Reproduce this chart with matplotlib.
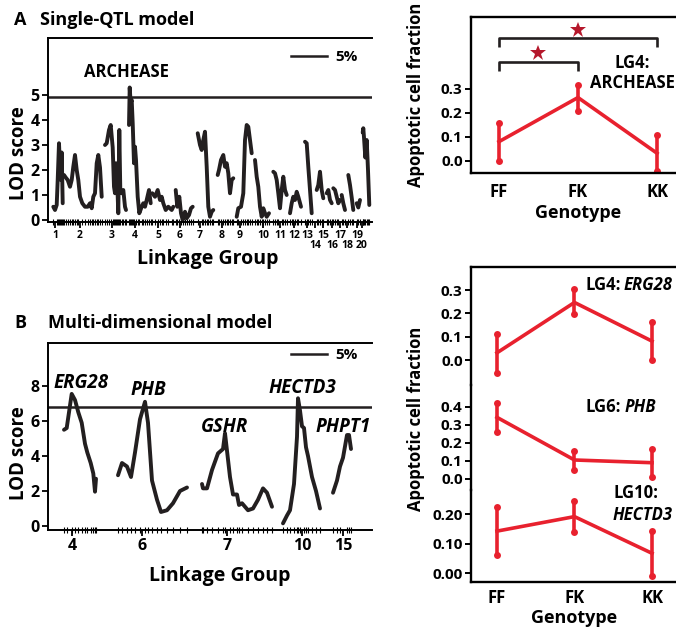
import matplotlib
matplotlib.use('Agg')
import matplotlib.pyplot as plt
import matplotlib.transforms as mtransforms
import numpy as np

plt.rcParams['font.family'] = ['Open Sans', 'DejaVu Sans']
plt.rcParams['font.weight'] = 'bold'

# ---------------- data: panel A (single-QTL LOD profile) ----------------
a_lg1_pos = [5.3, 7, 8.7, 9.7, 11, 12, 13, 13.7, 14.7]
a_lg1_lod = [0.53, 0.4, 0.6, 1.6, 3.07, 2.1, 1.6, 2.7, 0.67]
a_lg2_pos = [16, 17.7, 19.7, 22, 23.7, 25.3, 27, 28.7, 30.3, 32, 34.3, 37, 39.7, 42, 43.7, 45.3, 47, 48.7, 50.3, 52, 53.7]
a_lg2_lod = [1.8, 1.7, 1.6, 1.33, 1.6, 2.13, 2.6, 2.0, 1.6, 0.93, 0.67, 0.53, 0.53, 0.67, 0.47, 0.93, 1.07, 2.27, 2.6, 2.1, 0.93]
a_lg3_pos = [57, 58.7, 61, 62.7, 64.7, 66, 67, 68, 69, 70.3, 71.3, 72.3, 73.7, 75.3, 77, 78]
a_lg3_lod = [3.0, 3.07, 3.6, 3.8, 2.9, 1.33, 1.07, 2.27, 1.73, 0.27, 3.6, 1.2, 1.07, 1.2, 0.53, 0.4]
a_lg4_pos = [81, 81.7, 82.7, 83.7, 84.7, 86, 87, 88, 89.7, 91.3, 93.7, 95.3, 97, 98.7, 101, 102.7]
a_lg4_lod = [3.8, 5.3, 4.67, 4.8, 3.87, 2.27, 2.93, 2.4, 0.93, 0.27, 0.53, 0.67, 0.53, 0.8, 1.2, 0.67]
a_lg5_pos = [104.3, 107, 109.7, 112, 113.7, 115.3, 117.7, 120.3, 123.7, 125.3]
a_lg5_lod = [1.07, 0.93, 1.2, 0.8, 0.93, 0.67, 0.4, 0.53, 0.4, 0.53]
a_lg6_pos = [127.7, 129.3, 131.3, 133, 134.7, 137, 138.7, 141, 143, 144.7]
a_lg6_lod = [1.2, 0.53, 0.93, 0.27, 0.0, 0.33, 0.07, 0.2, 0.47, 0.53]
a_lg7_pos = [149.7, 152, 153.7, 155.3, 157, 158.7, 160.3, 162, 163.7, 165.3]
a_lg7_lod = [3.47, 3.0, 2.8, 3.2, 3.53, 2.13, 0.53, 0.13, 0.33, 0.4]
a_lg8_pos = [169.7, 171, 173, 175.3, 177, 178.7, 180.3, 182, 183.7, 185.3]
a_lg8_lod = [1.8, 2.0, 2.4, 2.6, 2.13, 2.27, 1.87, 1.07, 1.6, 1.67]
a_lg9_pos = [188.7, 190.3, 193, 195.3, 197, 198.7, 200.3, 202, 203.7]
a_lg9_lod = [0.13, 0.47, 0.53, 1.07, 3.2, 3.8, 3.73, 3.2, 2.67]
a_lg10_pos = [207, 208.7, 210.3, 212, 213.7, 215.3, 217, 218.7, 221]
a_lg10_lod = [2.4, 1.73, 1.33, 0.53, 0.13, 0.47, 0.27, 0.13, 0.27]
a_lg11_pos = [225.3, 227, 228.7, 230.3, 232, 233.7, 235.3, 237, 238.7]
a_lg11_lod = [1.93, 1.87, 1.6, 1.07, 0.47, 1.2, 1.73, 1.2, 1.0]
a_lg12_pos = [242, 243.7, 245.3, 247, 248.7, 250.3, 253]
a_lg12_lod = [0.27, 0.67, 0.93, 0.8, 1.13, 0.93, 0.53]
a_lg13_pos = [257, 258.7, 260.3, 262, 263.7]
a_lg13_lod = [3.13, 3.07, 2.13, 1.2, 0.27]
a_lg14_pos = [268.7, 270.3, 272, 273.7, 275.3]
a_lg14_lod = [1.2, 1.4, 1.93, 1.2, 0.87]
a_lg15_pos = [278.7, 280.3, 282, 283.7]
a_lg15_lod = [1.07, 1.2, 0.8, 0.67]
a_lg16_pos = [285.3, 287, 288.7, 290.3, 292]
a_lg16_lod = [1.27, 1.2, 0.93, 0.67, 0.8]
a_lg17_pos = [293.7, 295.3, 297]
a_lg17_lod = [1.0, 0.67, 0.4]
a_lg18_pos = [300.3, 302, 303.7, 305.3]
a_lg18_lod = [1.8, 1.4, 0.9, 0.4]
a_lg19_pos = [308.7, 310.3, 312]
a_lg19_lod = [0.67, 0.5, 0.8]
a_lg20_pos = [314.7, 315.3, 316, 317.3, 318.7, 320, 321.3]
a_lg20_lod = [3.5, 3.67, 3.3, 2.5, 3.2, 2.0, 0.6]

a_threshold = 4.93
a_tick_pos = [7, 32, 64, 87, 110, 132, 152, 174, 192, 215, 232, 246, 259, 267, 275, 284, 292, 299, 309, 314]
a_tick_labels = ['1', '2', '3', '4', '5', '6', '7', '8', '9', '10', '11', '12', '13', '14',
                 '15', '16', '17', '18', '19', '20']
a_tick_row = [0, 0, 0, 0, 0, 0, 0, 0, 0, 0, 0, 0, 0, 1, 0, 1, 0, 1, 0, 1]   # 1 = second label row

# ---------------- data: panel B (multi-dimensional LOD profile) ----------------
b_lg4_pos = [16, 18.7, 23.7, 27, 30.3, 33.7, 37, 39.3, 42.7, 45.3, 47, 48]
b_lg4_lod = [5.5, 5.6, 7.55, 7.2, 6.5, 5.9, 4.7, 4.2, 3.6, 3.0, 1.96, 2.7]
b_lg6_pos = [70, 74, 79, 83, 87, 92, 97, 100, 104, 109, 113, 119, 125, 132, 139]
b_lg6_lod = [2.9, 3.6, 3.4, 2.8, 4.2, 6.1, 7.1, 5.9, 2.6, 1.5, 0.8, 0.9, 1.3, 2.0, 2.2]
b_lg7_pos = [154, 155, 159, 164, 170, 175, 177, 179, 182, 185, 189, 191, 194, 200, 205, 210, 215, 219, 224]
b_lg7_lod = [2.4, 2.15, 2.15, 3.2, 4.15, 4.4, 5.3, 4.3, 2.8, 1.8, 1.8, 1.2, 1.3, 0.9, 1.0, 1.5, 2.15, 1.9, 1.1]
b_lg10_pos = [235, 239, 242, 246, 249, 250, 252, 254, 256, 258, 260, 264, 268, 272]
b_lg10_lod = [0.15, 0.6, 0.9, 2.4, 5.1, 7.3, 6.6, 5.7, 5.6, 4.5, 4.0, 2.8, 2.0, 1.0]
b_lg15_pos = [285, 289, 292, 295, 299, 301, 303]
b_lg15_lod = [1.9, 2.6, 3.4, 3.9, 5.2, 5.2, 4.4]

b_threshold = 6.8
b_tick_pos = [24, 94, 179, 254, 295]
b_tick_labels = ['4', '6', '7', '10', '15']
b_genes = ['ERG28', 'PHB', 'GSHR', 'HECTD3', 'PHPT1']
b_gene_x = [33, 100, 177, 254, 295]
b_gene_y = [8.2, 7.8, 5.65, 7.9, 5.65]

# ---------------- data: genotype effect panels ----------------
genotypes = ['FF', 'FK', 'KK']
archease_mean = [0.08, 0.263, 0.032]
archease_low = [0.0, 0.209, -0.04]
archease_high = [0.156, 0.315, 0.108]
sig_brackets = [(0, 2, 0.51), (0, 1, 0.412)]   # (from, to, height)

erg28_mean = [0.031, 0.247, 0.081]
erg28_low = [-0.054, 0.196, 0.0]
erg28_high = [0.111, 0.303, 0.162]
phb_mean = [0.341, 0.105, 0.09]
phb_low = [0.262, 0.05, 0.009]
phb_high = [0.419, 0.157, 0.166]
hectd3_mean = [0.143, 0.192, 0.068]
hectd3_low = [0.062, 0.141, -0.008]
hectd3_high = [0.226, 0.246, 0.144]

# ---------------- figure ----------------
W, H = 676, 628
fig = plt.figure(figsize=(W / 100, H / 100), dpi=100)

def add_ax(l, t, r, b):
    return fig.add_axes([l / W, 1 - b / H, (r - l) / W, (b - t) / H])

def fx(x):
    return x / W

def fy(y):
    return 1 - y / H

LINE = '#231f20'
RED = '#e8212e'
STAR = '#b5172b'

def lod_axes(ax, groups, thr, tick_pos, tick_labels, ylim, yticks, tick_fs, ytick_fs):
    allpos = []
    for pos, lod in groups:
        ax.plot(pos, lod, color=LINE, lw=2.8, solid_joinstyle='round', solid_capstyle='round')
        allpos += list(pos)
    ax.axhline(thr, color=LINE, lw=1.8, label='5%')
    ax.set_xlim(0, 324)
    ax.set_ylim(*ylim)
    ax.set_yticks(yticks)
    ax.set_xticks(tick_pos)
    ax.set_xticklabels(tick_labels, fontsize=tick_fs, fontweight='bold')
    ax.set_xticks(allpos, minor=True)
    ax.tick_params(axis='x', which='major', direction='out', length=4, width=1.3, pad=2)
    ax.tick_params(axis='x', which='minor', direction='inout', length=4, width=0.8)
    ax.tick_params(axis='y', direction='out', length=4, width=1.3, labelsize=ytick_fs, pad=2)
    for s in ['left', 'top', 'bottom']:
        ax.spines[s].set_linewidth(1.4)
    ax.spines['right'].set_visible(False)

# Panel A
axA = add_ax(48, 38, 372, 222)
groupsA = [(a_lg1_pos, a_lg1_lod), (a_lg2_pos, a_lg2_lod), (a_lg3_pos, a_lg3_lod), (a_lg4_pos, a_lg4_lod),
           (a_lg5_pos, a_lg5_lod), (a_lg6_pos, a_lg6_lod), (a_lg7_pos, a_lg7_lod), (a_lg8_pos, a_lg8_lod),
           (a_lg9_pos, a_lg9_lod), (a_lg10_pos, a_lg10_lod), (a_lg11_pos, a_lg11_lod), (a_lg12_pos, a_lg12_lod),
           (a_lg13_pos, a_lg13_lod), (a_lg14_pos, a_lg14_lod), (a_lg15_pos, a_lg15_lod), (a_lg16_pos, a_lg16_lod),
           (a_lg17_pos, a_lg17_lod), (a_lg18_pos, a_lg18_lod), (a_lg19_pos, a_lg19_lod), (a_lg20_pos, a_lg20_lod)]
top_labels = [lab if row == 0 else '' for lab, row in zip(a_tick_labels, a_tick_row)]
lod_axes(axA, groupsA, a_threshold, a_tick_pos, top_labels, (-0.08, 7.28), [0, 1, 2, 3, 4, 5], 7.5, 11.5)
trA = mtransforms.blended_transform_factory(axA.transData, axA.transAxes)
for p, lab, row in zip(a_tick_pos, a_tick_labels, a_tick_row):
    if row == 1:
        axA.text(p, -0.1, lab, transform=trA, ha='center', va='top', fontsize=7.5, fontweight='bold')
axA.text(78, 5.92, 'ARCHEASE', ha='center', va='center', fontsize=12, fontweight='bold')
axA.legend(loc='center right', bbox_to_anchor=(0.957, 0.897), frameon=False, handlelength=2.3,
           handletextpad=0.6, prop={'size': 11, 'weight': 'bold'}, borderaxespad=0, borderpad=0)

# Panel B
axB = add_ax(48, 343, 372, 530)
groupsB = [(b_lg4_pos, b_lg4_lod), (b_lg6_pos, b_lg6_lod), (b_lg7_pos, b_lg7_lod),
           (b_lg10_pos, b_lg10_lod), (b_lg15_pos, b_lg15_lod)]
lod_axes(axB, groupsB, b_threshold, b_tick_pos, b_tick_labels, (-0.23, 10.46), [0, 2, 4, 6, 8], 11.5, 11.5)
for g, gx, gy in zip(b_genes, b_gene_x, b_gene_y):
    axB.text(gx, gy, g, ha='center', va='center', fontsize=13.5, fontweight='bold', fontstyle='italic')
axB.legend(loc='center right', bbox_to_anchor=(0.957, 0.936), frameon=False, handlelength=2.3,
           handletextpad=0.6, prop={'size': 11, 'weight': 'bold'}, borderaxespad=0, borderpad=0)

# panel titles / axis labels (left)
fig.text(fx(14), fy(20), 'A', fontsize=13, fontweight='bold', va='center', ha='left')
fig.text(fx(40), fy(20), 'Single-QTL model', fontsize=13, fontweight='bold', va='center', ha='left')
fig.text(fx(14), fy(323), 'B', fontsize=13, fontweight='bold', va='center', ha='left')
fig.text(fx(48), fy(323), 'Multi-dimensional model', fontsize=13, fontweight='bold', va='center', ha='left')
fig.text(fx(19), fy(153), 'LOD score', rotation=90, fontsize=13.5, fontweight='bold', va='center', ha='center')
fig.text(fx(19), fy(453), 'LOD score', rotation=90, fontsize=13.5, fontweight='bold', va='center', ha='center')
fig.text(fx(208), fy(259), 'Linkage Group', fontsize=14, fontweight='bold', va='center', ha='center')
fig.text(fx(220), fy(576), 'Linkage Group', fontsize=14, fontweight='bold', va='center', ha='center')

# ---------------- genotype panels ----------------
def geno_plot(ax, mean, low, high):
    x = np.arange(len(genotypes))
    m = np.array(mean)
    yerr = [m - np.array(low), np.array(high) - m]
    eb = ax.errorbar(x, m, yerr=yerr, color=RED, lw=2.6, elinewidth=2.6, capsize=2)
    for cap in eb[1]:
        cap.set_marker('o')
        cap.set_markersize(5)
        cap.set_markeredgewidth(0)
        cap.set_markerfacecolor(RED)
    ax.spines['right'].set_visible(False)
    for s in ['left', 'top', 'bottom']:
        ax.spines[s].set_linewidth(1.7)
    ax.tick_params(axis='y', direction='out', length=4, width=1.4, labelsize=11, pad=2)
    ax.tick_params(axis='x', length=0)

# top right
axC = add_ax(471, 17, 700, 173)
geno_plot(axC, archease_mean, archease_low, archease_high)
axC.set_xlim(-0.354, 2.544)
axC.set_ylim(-0.05, 0.597)
axC.set_yticks([0.0, 0.1, 0.2, 0.3])
axC.set_yticklabels(['0.0', '0.1', '0.2', '0.3'])
axC.set_xticks(range(3))
axC.set_xticklabels(genotypes, fontsize=12, fontweight='bold')
axC.tick_params(axis='x', pad=7)
for x0, x1, h in sig_brackets:
    axC.plot([x0, x0, x1, x1], [h - 0.037, h, h, h - 0.037], color=LINE, lw=1.9,
             solid_joinstyle='round', solid_capstyle='butt')
    axC.plot((x0 + x1) / 2, h + 0.035, marker='*', color=STAR, markersize=12, markeredgewidth=0)
fig.text(fx(632), fy(63), 'LG4:', fontsize=12, fontweight='bold', ha='center', va='center')
fig.text(fx(632), fy(83), 'ARCHEASE', fontsize=12, fontweight='bold', ha='center', va='center')
fig.text(fx(578), fy(213), 'Genotype', fontsize=13, fontweight='bold', ha='center', va='center')
fig.text(fx(416), fy(95), 'Apoptotic cell fraction', rotation=90, fontsize=12, fontweight='bold',
         ha='center', va='center')

# bottom right: three stacked scales in one frame
ax1 = add_ax(471, 267, 700, 385)
ax2 = add_ax(471, 385, 700, 490)
ax3 = add_ax(471, 490, 700, 582)
geno_plot(ax1, erg28_mean, erg28_low, erg28_high)
geno_plot(ax2, phb_mean, phb_low, phb_high)
geno_plot(ax3, hectd3_mean, hectd3_low, hectd3_high)
for a in (ax1, ax2, ax3):
    a.set_xlim(-0.335, 2.619)
    a.patch.set_alpha(0)
ax1.spines['bottom'].set_visible(False)
ax2.spines['bottom'].set_visible(False)
ax2.spines['top'].set_visible(False)
ax3.spines['top'].set_visible(False)
ax1.set_ylim(-0.107, 0.399)
ax1.set_yticks([0.0, 0.1, 0.2, 0.3])
ax1.set_yticklabels(['0.0', '0.1', '0.2', '0.3'])
ax2.set_ylim(-0.061, 0.52)
ax2.set_yticks([0.0, 0.1, 0.2, 0.3, 0.4])
ax2.set_yticklabels(['0.0', '0.1', '0.2', '0.3', '0.4'])
ax3.set_ylim(-0.029, 0.282)
ax3.set_yticks([0.0, 0.1, 0.2])
ax3.set_yticklabels(['0.00', '0.10', '0.20'])
ax1.set_xticks([])
ax2.set_xticks([])
ax3.set_xticks(range(3))
ax3.set_xticklabels(genotypes, fontsize=12, fontweight='bold')
ax3.tick_params(axis='x', pad=5)

fig.text(fx(621), fy(285), 'LG4:', fontsize=12, fontweight='bold', ha='right', va='center')
fig.text(fx(624), fy(285), 'ERG28', fontsize=12, fontweight='bold', fontstyle='italic', ha='left', va='center')
fig.text(fx(621), fy(407), 'LG6:', fontsize=12, fontweight='bold', ha='right', va='center')
fig.text(fx(625), fy(407), 'PHB', fontsize=12, fontweight='bold', fontstyle='italic', ha='left', va='center')
fig.text(fx(636), fy(493), 'LG10:', fontsize=12, fontweight='bold', ha='center', va='center')
fig.text(fx(643), fy(515), 'HECTD3', fontsize=12, fontweight='bold', fontstyle='italic', ha='center', va='center')
fig.text(fx(574), fy(618), 'Genotype', fontsize=13, fontweight='bold', ha='center', va='center')
fig.text(fx(416), fy(419), 'Apoptotic cell fraction', rotation=90, fontsize=12, fontweight='bold',
         ha='center', va='center')

fig.savefig('out.png', dpi=100)
